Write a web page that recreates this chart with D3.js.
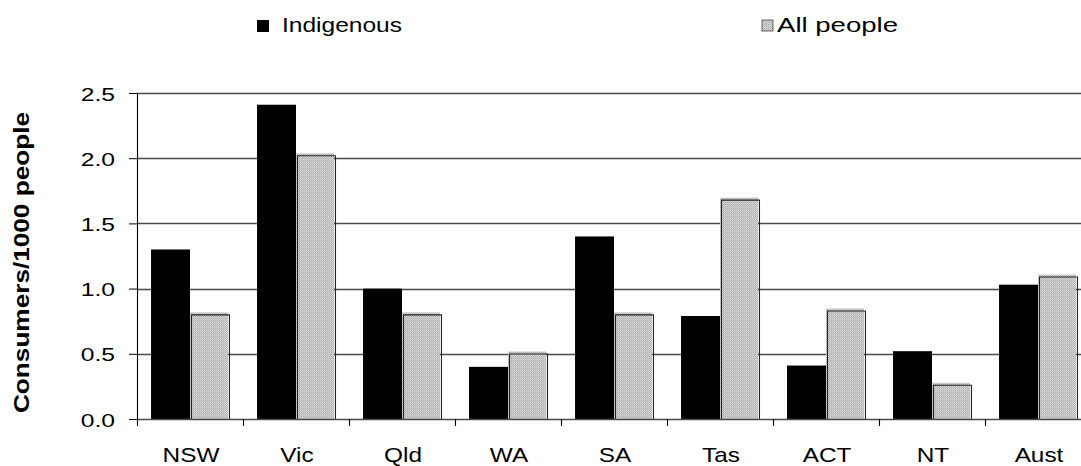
<!DOCTYPE html>
<html><head><meta charset="utf-8">
<script src="https://cdn.jsdelivr.net/npm/d3@7"></script>
<style>
html,body{margin:0;padding:0;background:#fff;}
svg{display:block;font-family:"Liberation Sans",Arial,sans-serif;}
</style></head>
<body><svg id="c" width="1081" height="466"></svg>
<script>
const categories = ["NSW","Vic","Qld","WA","SA","Tas","ACT","NT","Aust"];
const indigenous = [1.30, 2.41, 1.00, 0.40, 1.40, 0.79, 0.41, 0.52, 1.03];
const allPeople  = [0.81, 2.03, 0.81, 0.51, 0.81, 1.69, 0.84, 0.27, 1.10];
const seriesNames = ["Indigenous","All people"];
const yTicks = [0, 0.5, 1.0, 1.5, 2.0, 2.5];

(function(){
const svg = d3.select("#c");
const defs = svg.append("defs");
const pat = defs.append("pattern").attr("id","hatch").attr("patternUnits","userSpaceOnUse")
  .attr("width",2).attr("height",2);
pat.append("rect").attr("width",2).attr("height",2).attr("fill","#d6d6d6");
pat.append("rect").attr("x",0).attr("y",0).attr("width",1).attr("height",1).attr("fill","#a9a9a9");
pat.append("rect").attr("x",1).attr("y",1).attr("width",1).attr("height",1).attr("fill","#bdbdbd");

const mLeft = 137, mTop = 93, mBottom = 419, step = 106;
const x = d3.scaleBand().domain(categories).range([mLeft, mLeft + categories.length*step]).padding(0);
const x1 = d3.scaleBand().domain(seriesNames).range([0, x.bandwidth()]).paddingOuter(0.36).paddingInner(0);
const y = d3.scaleLinear().domain([0, 2.5]).range([mBottom, mTop]);

// gridlines
svg.append("g").selectAll("line").data(yTicks.filter(d=>d>0)).join("line")
  .attr("x1", mLeft).attr("x2", 1081).attr("y1", d=>Math.round(y(d))+0.5).attr("y2", d=>Math.round(y(d))+0.5)
  .attr("stroke","#4a4a4a").attr("stroke-width",1.3);

// bars
const bw = x1.bandwidth();
const g = svg.append("g").selectAll("g").data(categories).join("g")
  .attr("transform", d=>`translate(${x(d)},0)`);
g.append("rect").attr("x", x1("Indigenous")).attr("width", bw)
  .attr("y", (d,i)=>y(indigenous[i])).attr("height",(d,i)=>mBottom - y(indigenous[i])).attr("fill","#000");
g.append("rect").attr("x", x1("All people")).attr("width", bw - 1)
  .attr("y", (d,i)=>y(allPeople[i]) - 1).attr("height",(d,i)=>mBottom - y(allPeople[i]) + 1)
  .attr("fill","url(#hatch)");
g.append("path").attr("d",(d,i)=>{
  const x0 = x1("All people")+1.5, x2 = x1("All people")+bw+0.5, yt = y(allPeople[i])+1.5;
  return `M${x0},${mBottom} L${x0},${yt} L${x2},${yt} L${x2},${mBottom}`;
}).attr("fill","none").attr("stroke","#222").attr("stroke-width",1.1);

// y axis
const ya = svg.append("g").attr("transform",`translate(${mLeft},0)`)
  .call(d3.axisLeft(y).tickValues(yTicks).tickFormat(d3.format(".1f")).tickSize(8).tickPadding(12).tickSizeOuter(0));
ya.select(".domain").attr("stroke","#000").attr("stroke-width",1.1);
ya.selectAll(".tick line").attr("stroke","#000");
ya.selectAll(".tick text").attr("font-size",19).attr("fill","#000")
  .attr("font-family","Liberation Sans, Arial, sans-serif")
  .attr("x",null).attr("dy",null)
  .attr("transform","translate(-22,7) scale(1.3,1)");

// x axis
const xa = svg.append("g").attr("transform",`translate(0,${mBottom})`)
  .call(d3.axisBottom(x).tickSize(0).tickPadding(0).tickSizeOuter(0));
xa.select(".domain").attr("stroke","#4a4a4a").attr("stroke-width",1.4);
xa.selectAll(".tick text").attr("font-size",21).attr("fill","#000")
  .attr("font-family","Liberation Sans, Arial, sans-serif")
  .attr("y",null).attr("dy",null)
  .attr("transform","translate(1,43) scale(1.16,1)");
svg.append("g").selectAll("line").data(categories).join("line")
  .attr("x1", d=>x(d)+0.5).attr("x2", d=>x(d)+0.5).attr("y1", mBottom).attr("y2", mBottom+7)
  .attr("stroke","#000").attr("stroke-width",1.1);

// y title
svg.append("text").attr("transform","translate(28.5,262.5) rotate(-90) scale(1.19,1)")
  .attr("text-anchor","middle").attr("font-weight","bold").attr("font-size",22)
  .text("Consumers/1000 people");

// legend
const leg = [{name:seriesNames[0], x:257, fill:"#000", tx:282, w:120},
             {name:seriesNames[1], x:762, fill:"url(#hatch)", tx:777, w:121}];
const lg = svg.append("g").selectAll("g").data(leg).join("g");
lg.append("rect").attr("x",d=>d.x).attr("y",20).attr("width",d=>d.name==="All people"?11:12).attr("height",d=>d.name==="All people"?11:12)
  .attr("fill",d=>d.fill).attr("stroke",d=>d.name==="All people"?"#444":"none").attr("stroke-width",0.8);
lg.append("text").attr("x",d=>d.tx).attr("y",32).attr("font-size",21)
  .attr("textLength",d=>d.w).attr("lengthAdjust","spacingAndGlyphs").text(d=>d.name);
})();
</script></body></html>
